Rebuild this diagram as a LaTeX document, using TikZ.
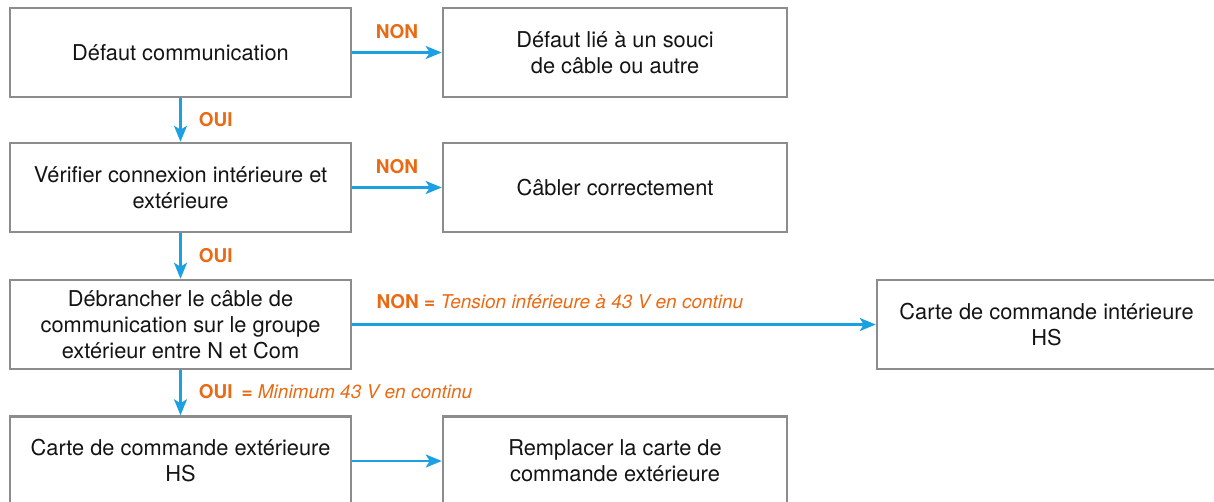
\documentclass[tikz,border=0pt]{standalone}
\usepackage{fontspec}
\setmainfont{TeX Gyre Heros}
\usetikzlibrary{arrows.meta}
\definecolor{arrowblue}{HTML}{1BA0E1}
\definecolor{labelorange}{HTML}{EA6A14}
\definecolor{boxgray}{HTML}{8C8C8C}
\definecolor{textblack}{HTML}{141414}
\begin{document}
\begin{tikzpicture}[x=1pt,y=-1pt,
  box/.style={draw=boxgray, line width=2.5pt, fill=white, minimum height=89pt,
    align=center, text=textblack, font=\fontsize{21.8}{26}\selectfont, inner sep=4pt},
  leftbox/.style={box, minimum width=341pt},
  midbox/.style={box, minimum width=344pt},
  flow/.style={draw=arrowblue, line width=2.5pt, -{Stealth[length=16pt,width=13pt,inset=4pt]}},
  lbl/.style={text=labelorange, font=\fontsize{19}{22}\selectfont\bfseries, inner sep=0pt}
]
\useasboundingbox (0,0) rectangle (1214,501);

\node[leftbox] (b1) at (180.5,52.5) {Défaut communication};
\node[midbox]  (b2) at (615,52.5) {Défaut lié à un souci\\de câble ou autre};
\node[leftbox] (b3) at (180.5,187.5) {Vérifier connexion intérieure et\\extérieure};
\node[midbox]  (b4) at (615,187.5) {Câbler correctement};
\node[leftbox] (b5) at (180.5,324.5) {Débrancher le câble de\\communication sur le groupe\\extérieur entre N et Com};
\node[box, minimum width=339pt] (b6) at (1046.5,324.5) {Carte de commande intérieure\\HS};
\node[leftbox] (b7) at (180.5,461) {Carte de commande extérieure\\HS};
\node[midbox]  (b8) at (615,461) {Remplacer la carte de\\commande extérieure};

\draw[flow] (b1) -- (b2) node[midway, lbl, yshift=21pt] {NON};
\draw[flow] (b3) -- (b4) node[midway, lbl, yshift=21pt] {NON};
\draw[flow] (b5) -- (b6) node[pos=0, lbl, anchor=west, xshift=23pt, yshift=22.5pt]
  {NON = \textit{\mdseries Tension inférieure à 43 V en continu}};
\draw[flow] (b7) -- (b8);

\draw[flow] (b1) -- (b3) node[midway, lbl, anchor=west, xshift=17pt] {OUI};
\draw[flow] (b3) -- (b5) node[midway, lbl, anchor=west, xshift=17pt] {OUI};
\draw[flow] (b5) -- (b7) node[midway, lbl, anchor=west, xshift=17pt, yshift=1pt]
  {OUI\hspace{9pt}= \textit{\mdseries Minimum 43 V en continu}};
\end{tikzpicture}
\end{document}
